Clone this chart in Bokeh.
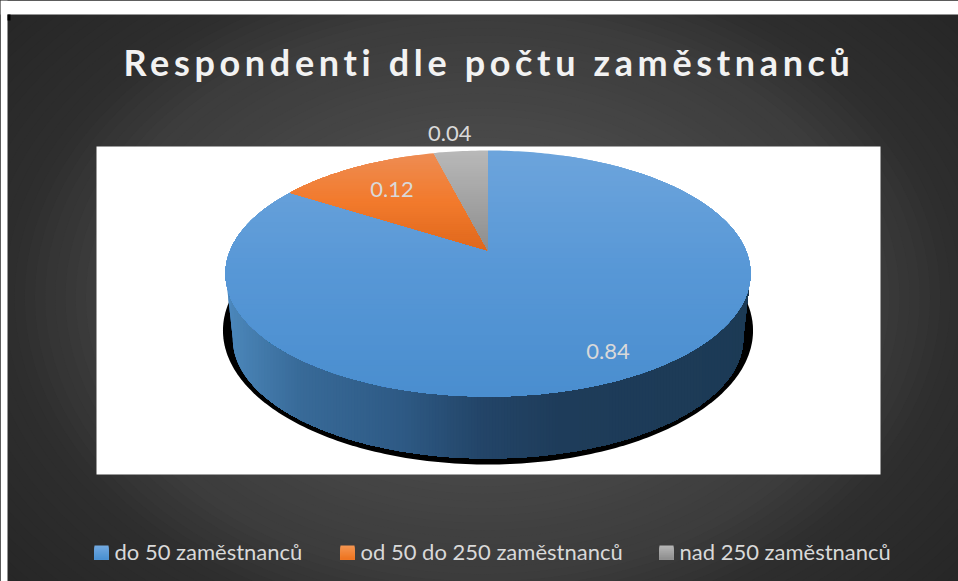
import numpy as np
from bokeh.plotting import figure
from bokeh.embed import file_html
from bokeh.resources import INLINE
from bokeh.core.properties import value
from bokeh.document import Document
from bokeh.models import CustomJS

TITLE = "Respondenti dle počtu zaměstnanců"
categories = ["do 50 zaměstnanců", "od 50 do 250 zaměstnanců", "nad 250 zaměstnanců"]
shares = [0.84, 0.12, 0.04]
share_labels = ["0.84", "0.12", "0.04"]

TOP_COLORS = [["#6ca4dc", "#5797d6", "#4a8ecf"], ["#ee8c52", "#f27a2c", "#e0681c"], ["#b8b8b8", "#a3a3a3", "#8e8e8e"]]
SWATCH_COLORS = [["#72a9e0", "#4a90d2"], ["#f59550", "#ee7420"], ["#b5b5b5", "#8e8e8e"]]
TEXT = "#d9d9d9"

# projective pie geometry
CX, APEX, A, B, K = 487.5, 250.0, 257.9, 118.7, 0.187


def project(theta, r=1.0, scale=1.0, apex=APEX, scale_y=None):
    u, v = r * np.sin(theta), r * np.cos(theta)
    w = 1 + K * v
    sy = scale if scale_y is None else scale_y
    return CX + scale * A * u / w, apex - sy * B * v / w


def lerp_hex(c1, c2, t):
    a = np.array([int(c1[i:i + 2], 16) for i in (1, 3, 5)], float)
    b = np.array([int(c2[i:i + 2], 16) for i in (1, 3, 5)], float)
    return "#%02x%02x%02x" % tuple(int(round(x)) for x in a + (b - a) * t)


def ramp(cols, t):
    n = len(cols) - 1
    j = min(int(t * n), n - 1)
    return lerp_hex(cols[j], cols[j + 1], t * n - j)


def clip_half(xs, ys, limit, axis):
    """Keep the polygon's part where the coordinate on axis is >= limit."""
    pts = list(zip(xs, ys))
    out = []
    for i, q0 in enumerate(pts):
        q1 = pts[(i + 1) % len(pts)]
        pin, qin = q0[axis] >= limit, q1[axis] >= limit
        if pin:
            out.append(q0)
        if pin != qin:
            t = (limit - q0[axis]) / (q1[axis] - q0[axis])
            out.append((q0[0] + (q1[0] - q0[0]) * t, q0[1] + (q1[1] - q0[1]) * t))
    return [a for a, _ in out], [b for _, b in out]


gx, gy, gc = [], [], []


def add(xs, ys, color):
    if len(xs) > 2:
        gx.append(list(xs))
        gy.append(list(ys))
        gc.append(color)


def graded(xs, ys, cols, axis=1, steps=48):
    coord = ys if axis == 1 else xs
    lo, hi = min(coord), max(coord)
    for i in range(steps):
        cx_, cy_ = clip_half(xs, ys, lo + (hi - lo) * i / steps, axis)
        add(cx_, cy_, ramp(cols, i / (steps - 1)))


p = figure(width=958, height=581, x_range=(0, 958), y_range=(581, 0),
           min_border=0, toolbar_location=None, output_backend="svg",
           outline_line_color=None, background_fill_color="white",
           border_fill_color="white")
p.axis.visible = False
p.grid.visible = False

# dark radial backdrop
BG_T = [0.0, 0.5, 0.83, 1.0, 1.5]
BG_V = [0x58, 0x48, 0x3c, 0x2e, 0x22]
phi = np.linspace(0, 2 * np.pi, 121)
for t in np.linspace(1.5, 0.02, 70):
    g = int(round(np.interp(t, BG_T, BG_V)))
    if t == 1.5:
        add([7, 958, 958, 7], [14, 14, 581, 581], "#%02x%02x%02x" % (g, g, g))
    add(482 + 475 * t * np.cos(phi), 297 + 340 * t * np.sin(phi), "#%02x%02x%02x" % (g, g, g))
# mask outside the chart
add([0, 958, 958, 0], [0, 0, 14, 14], "#ffffff")
add([0, 7, 7, 0], [0, 0, 581, 581], "#ffffff")
add([7, 10, 10, 7], [14, 14, 20, 20], "#000000")
# white plot panel
add([96, 880, 880, 96], [146, 146, 474, 474], "#ffffff")

theta_full = np.linspace(0, 2 * np.pi, 361)
# shadow
sx, sy = project(theta_full, scale=1.0095, scale_y=1.089, apex=305.0)
add(sx, sy, "#000000")

# side wall: between the two rims, closed by straight edges at their widest points
theta_e = np.arccos(-K)
front = np.linspace(theta_e, 2 * np.pi - theta_e, 240)
lx, ly = project(front, scale=0.972, apex=316.0)
ux, uy = project(front[::-1])
side_x, side_y = list(lx) + list(ux), list(ly) + list(uy)
SIDE_X = [225, 233, 300, 400, 480, 560, 750]
SIDE_C = ["#4c8bc5", "#4a85b8", "#386a98", "#2e5a85", "#234568", "#1e3c5a", "#1c3a55"]
xmin = min(side_x)
for i in range(175):
    lim = xmin + i * 3
    cx_, cy_ = clip_half(side_x, side_y, lim, 0)
    j = min(np.searchsorted(SIDE_X, lim + 1.5, side="right") - 1, len(SIDE_X) - 2)
    f = np.clip((lim + 1.5 - SIDE_X[j]) / (SIDE_X[j + 1] - SIDE_X[j]), 0, 1)
    add(cx_, cy_, lerp_hex(SIDE_C[j], SIDE_C[j + 1], f))

# top faces, clockwise from 12 o'clock
edges = np.cumsum([0.0] + shares) * 2 * np.pi
mids = (edges[:-1] + edges[1:]) / 2
for k in range(len(shares)):
    th = np.linspace(edges[k], edges[k + 1], max(int(shares[k] * 360), 8))
    wx, wy = project(th)
    graded([CX] + list(wx), [APEX] + list(wy), TOP_COLORS[k])

# legend swatches
SWATCH_X = [94, 340, 659]
for k, sw in enumerate(SWATCH_X):
    graded([sw, sw + 14, sw + 14, sw], [545, 545, 559, 559], SWATCH_COLORS[k], steps=14)

p.patches(gx, gy, fill_color=gc, line_color=None)

# value labels placed along each slice's mid angle
LABEL_R = [0.84, 0.70, 1.22]
LABEL_DX = [-1, 0, -6]
lab_x, lab_y = [], []
for k in range(len(shares)):
    x_, y_ = project(mids[k], r=LABEL_R[k])
    lab_x.append(float(x_) + LABEL_DX[k])
    lab_y.append(float(y_))
p.text(lab_x, lab_y, text=share_labels, text_font=value("Lato"), text_font_size="22px",
       text_color=TEXT, text_align="center", text_baseline="middle")

p.text([123], [61], text=[TITLE], text_font=value("Lato"), text_font_size="36px",
       text_font_style="bold", text_color="#f2f2f2", text_align="left", text_baseline="middle")

LEGEND_X = [114, 360, 679]
p.text(LEGEND_X, [551] * 3, text=categories, text_font=value("Lato"), text_font_size="22px",
       text_color=TEXT, text_align="left", text_baseline="middle")

# the title of the reference is letter-spaced; Bokeh text has no such property
spacing = CustomJS(args=dict(title=TITLE), code="""
const apply = () => {
  const walk = (root) => root.querySelectorAll('*').forEach((el) => {
    if (el.shadowRoot) walk(el.shadowRoot);
    if (el.tagName.toLowerCase() === 'text' && el.textContent === title) {
      el.style.letterSpacing = '4.65px';
    }
  });
  walk(document);
};
apply();
setTimeout(apply, 50);
setTimeout(apply, 300);
""")
doc = Document()
doc.add_root(p)
doc.js_on_event("document_ready", spacing)

open("out.html", "w").write(file_html(doc, INLINE))
